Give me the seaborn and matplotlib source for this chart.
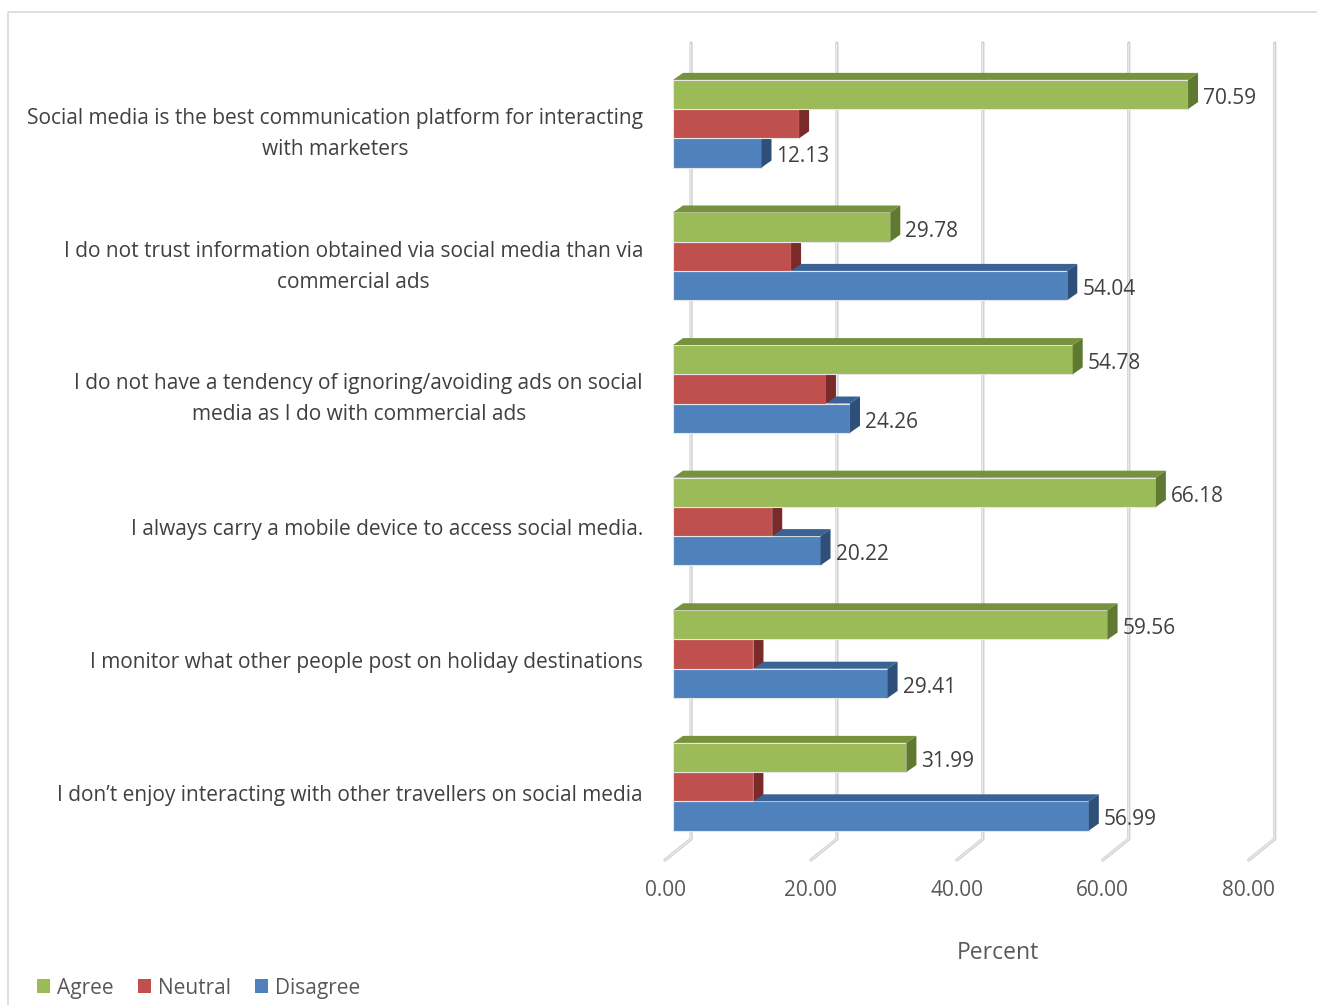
import matplotlib
matplotlib.use("Agg")
import numpy as np
import pandas as pd
import matplotlib.pyplot as plt
import matplotlib.transforms as mtransforms
from matplotlib.patches import Polygon, Patch
from matplotlib.lines import Line2D
import seaborn as sns

# Survey statements (one row each)
statements = [
    "Social media is the best communication platform for interacting\nwith marketers",
    "I do not trust information obtained via social media than via\ncommercial ads",
    "I do not have a tendency of ignoring/avoiding ads on social\nmedia as I do with commercial ads",
    "I always carry a mobile device to access social media.",
    "I monitor what other people post on holiday destinations",
    "I don\u2019t enjoy interacting with other travellers on social media",
]
agree = [70.59, 29.78, 54.78, 66.18, 59.56, 31.99]
neutral = [17.28, 16.18, 20.96, 13.60, 11.03, 11.02]
disagree = [12.13, 54.04, 24.26, 20.22, 29.41, 56.99]
responses = ["Agree", "Neutral", "Disagree"]
labelled = {"Agree": agree, "Disagree": disagree}
x_ticks = [0, 20, 40, 60, 80]

front_colors = ["#9bbb59", "#c0504d", "#4f81bd"]
top_colors = ["#76923c", "#943634", "#3b6294"]
side_colors = ["#5f7a30", "#7a2a28", "#2e4f78"]

W, H = 1317, 1005
TXT = "#404040"
AXT = "#595959"
FS = 15.0

sns.set_theme(style="white")
plt.rcParams["font.family"] = ["Open Sans", "DejaVu Sans"]

df = pd.DataFrame({
    "Statement": statements * 3,
    "Response": sum([[r] * len(statements) for r in responses], []),
    "Percent": agree + neutral + disagree,
})

fig = plt.figure(figsize=(W / 100, H / 100), dpi=100)
fig.patch.set_facecolor("white")
ax = fig.add_axes([673 / W, 1 - 853 / H, 583.7 / W, 795.6 / H])
ax.patch.set_visible(False)

sns.barplot(data=df, y="Statement", x="Percent", hue="Response",
            hue_order=responses, palette=front_colors, orient="h",
            width=0.661, saturation=1, errorbar=None, legend=False, ax=ax,
            linewidth=0.8, edgecolor="#e6e6e6")
ax.set_xlim(0, 80)
ax.set_ylim(len(statements) - 0.5, -0.5)
for s in ax.spines.values():
    s.set_visible(False)
ax.grid(False)
ax.set_xlabel("")
ax.set_ylabel("")

ident = mtransforms.IdentityTransform()
DX, DY = 10, 7          # bar depth (pixels)
BACK = 18               # wall offset behind bars
FLOOR_DX, FLOOR_DY = 26, 21

# back-wall grid lines with floor ticks
for v in x_ticks:
    bx = ax.transData.transform((v, 0))[0] + BACK
    ax.add_line(Line2D([bx, bx, bx - FLOOR_DX], [H - 43, H - 839, H - 839 - FLOOR_DY],
                       transform=ident, clip_on=False, color="#d2d2d2", lw=2.4,
                       solid_joinstyle="miter", zorder=0.5))
    ax.add_line(Line2D([bx - 0.4, bx - 0.4, bx - FLOOR_DX], [H - 44, H - 839, H - 839 - FLOOR_DY],
                       transform=ident, clip_on=False, color="#ececec", lw=0.8, zorder=0.6))

# 3D faces for each bar; upper bars sit in front of the ones below
zorders = {"Agree": 5, "Neutral": 4, "Disagree": 3}
for container, resp, tc, sc in zip(ax.containers, responses, top_colors, side_colors):
    z = zorders[resp]
    for i, rect in enumerate(container):
        rect.set_zorder(z)
        (x0, y0), (x1, y1) = ax.transData.transform(
            [(rect.get_x(), rect.get_y() + rect.get_height()),
             (rect.get_x() + rect.get_width(), rect.get_y())])
        top = Polygon([(x0, y1), (x1, y1), (x1 + DX, y1 + DY), (x0 + DX, y1 + DY)],
                      closed=True, transform=ident, clip_on=False, facecolor=tc,
                      edgecolor="none", zorder=z)
        side = Polygon([(x1, y0), (x1, y1), (x1 + DX, y1 + DY), (x1 + DX, y0 + DY)],
                       closed=True, transform=ident, clip_on=False, facecolor=sc,
                       edgecolor="none", zorder=z)
        ax.add_patch(top)
        ax.add_patch(side)
        if resp in labelled:
            val = labelled[resp][i]
            off = mtransforms.offset_copy(ax.transData, fig=fig, x=15, y=-4, units="dots")
            ax.text(val, rect.get_y() + rect.get_height() / 2, f"{val:.2f}",
                    transform=off, ha="left", va="center", color=TXT,
                    fontsize=FS, zorder=6)

# category labels
ax.set_yticks(range(len(statements)))
ax.set_yticklabels(statements, fontsize=FS, color=TXT, multialignment="center",
                   linespacing=1.62)
ax.tick_params(axis="y", length=0, pad=21.6)
for lab in ax.get_yticklabels():
    shift = 3 if "\n" in lab.get_text() else 6
    lab.set_transform(lab.get_transform() + mtransforms.ScaledTranslation(0, -shift / 100, fig.dpi_scale_trans))

# value axis labels, placed under the front ends of the floor ticks
ax.set_xticks(x_ticks)
ax.set_xticklabels([f"{v:.2f}" for v in x_ticks], fontsize=FS, color=AXT)
ax.tick_params(axis="x", length=0, pad=19.5)
for lab in ax.get_xticklabels():
    lab.set_transform(lab.get_transform() + mtransforms.ScaledTranslation(-8 / 100, 0, fig.dpi_scale_trans))

fig.text(998 / W, 1 - 953 / H, "Percent", ha="center", va="center", color=AXT, fontsize=16.5)

handles = [Patch(facecolor=c, edgecolor="none", label=r) for c, r in zip(front_colors, responses)]
fig.legend(handles=handles, loc="center left", bbox_to_anchor=(37 / W, 1 - 988 / H),
           ncol=3, frameon=False, fontsize=FS, labelcolor=AXT, handlelength=0.63,
           handleheight=0.63, handletextpad=0.34, columnspacing=1.15,
           borderpad=0, borderaxespad=0)

# chart-area border (top and left edges)
fig.add_artist(Line2D([8 / W, 8 / W, 1], [0, 1 - 12 / H, 1 - 12 / H],
                      transform=fig.transFigure, color="#d9d9d9", lw=1.2))

fig.savefig("out.png", dpi=100)
